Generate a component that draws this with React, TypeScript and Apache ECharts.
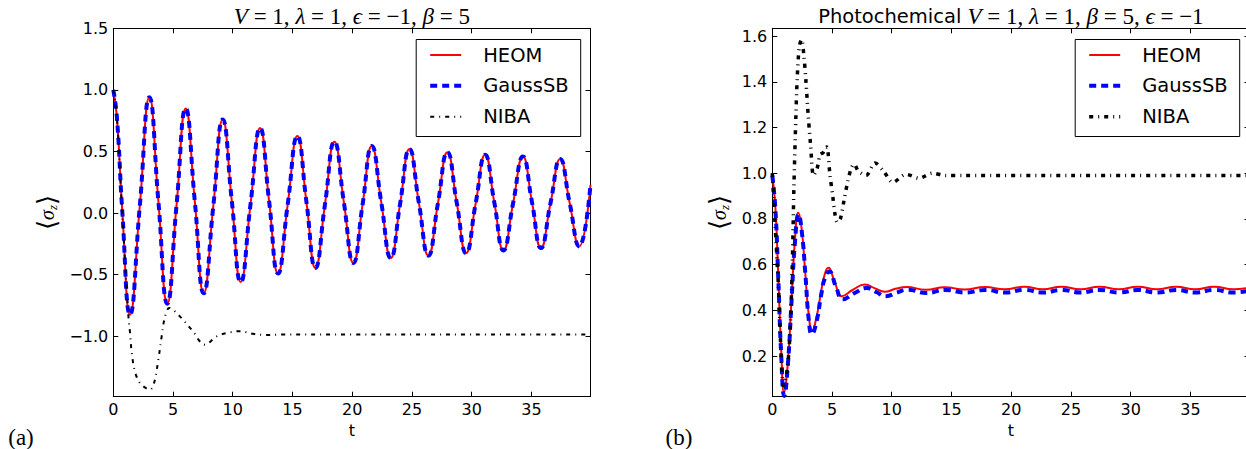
import React, { useEffect, useRef } from "react";
import * as echarts from "echarts";

// ---------------- data ----------------
const xTicks = [0, 5, 10, 15, 20, 25, 30, 35];
const yTicksA = [-1.0, -0.5, 0.0, 0.5, 1.0, 1.5];
const yTicksB = [0.2, 0.4, 0.6, 0.8, 1.0, 1.2, 1.4, 1.6];
const legendNames = ["HEOM", "GaussSB", "NIBA"];
const xRange = [0, 39.95];
const yRangeA = [-1.49, 1.5];
const yRangeB = [0.022, 1.634];

// panel (a): V=1, lambda=1, eps=-1, beta=5
const heomA = [
  [0, 1.0], [0.3, 0.78], [0.75, 0.02], [1.4, -0.825], [2.22, 0.06], [3.02, 0.94],
  [3.77, 0.1], [4.52, -0.735], [5.29, 0.06], [6.06, 0.85], [6.82, 0.1], [7.57, -0.65],
  [8.37, 0.055], [9.16, 0.76], [9.92, 0.1], [10.67, -0.56], [11.48, 0.065], [12.29, 0.69],
  [13.04, 0.1], [13.79, -0.49], [14.6, 0.07], [15.41, 0.625], [16.17, 0.09], [16.92, -0.445],
  [17.72, 0.07], [18.51, 0.58], [19.3, 0.09], [20.1, -0.405], [20.87, 0.07], [21.64, 0.545],
  [22.43, 0.09], [23.23, -0.365], [24.01, 0.075], [24.79, 0.52], [25.58, 0.085], [26.38, -0.345],
  [27.17, 0.075], [27.97, 0.495], [28.75, 0.085], [29.54, -0.325], [30.33, 0.075], [31.13, 0.473],
  [31.9, 0.085], [32.66, -0.303], [33.47, 0.08], [34.29, 0.46], [35.05, 0.09], [35.8, -0.284],
  [36.6, 0.08], [37.41, 0.44], [38.2, 0.085], [39.0, -0.27], [39.95, 0.23],
];
// GaussSB lies on top of HEOM in panel (a)
const gaussA = heomA;
const nibaA = [
  [0, 1.0], [0.3, 0.78], [0.7, 0.08], [1.26, -0.83], [1.4, -0.97], [1.54, -1.13],
  [1.82, -1.29], [2.24, -1.38], [2.8, -1.425], [3.07, -1.433], [3.41, -1.38], [3.77, -1.19],
  [4.05, -1.0], [4.33, -0.84], [4.69, -0.77], [5.59, -0.84], [6.56, -0.946], [7.68, -1.068],
  [8.66, -1.0], [9.5, -0.973], [10.6, -0.958], [11.7, -0.98], [12.85, -0.99], [14.0, -0.985],
  [20, -0.985], [30, -0.985], [39.95, -0.985],
];

// panel (b): photochemical
const heomB = [
  [0, 0.99], [0.25, 0.86], [0.5, 0.55], [0.75, 0.22], [0.98, 0.042], [1.3, 0.17],
  [1.6, 0.44], [1.9, 0.71], [2.17, 0.827], [2.45, 0.76], [2.75, 0.57], [3.05, 0.38],
  [3.34, 0.309], [3.7, 0.37], [4.05, 0.47], [4.35, 0.55], [4.68, 0.586], [5.25, 0.52],
  [5.8, 0.462], [6.75, 0.49], [7.75, 0.513], [8.6, 0.496], [9.42, 0.481], [10.3, 0.494],
  [11.24, 0.502], [12.85, 0.49], [14.45, 0.501], [16.1, 0.491], [17.8, 0.502], [19.45, 0.492],
  [21.1, 0.503], [22.65, 0.492], [24.2, 0.503], [25.8, 0.492], [27.4, 0.503], [29.0, 0.492],
  [30.6, 0.503], [32.2, 0.492], [33.8, 0.503], [35.4, 0.492], [37.0, 0.503], [38.6, 0.492],
  [39.95, 0.5],
];
const gaussB = [
  [0, 0.99], [0.25, 0.85], [0.5, 0.54], [0.75, 0.2], [1.0, 0.025], [1.3, 0.16],
  [1.6, 0.43], [1.9, 0.7], [2.2, 0.82], [2.48, 0.74], [2.78, 0.55], [3.05, 0.36],
  [3.3, 0.295], [3.7, 0.35], [4.1, 0.47], [4.4, 0.54], [4.77, 0.57], [5.35, 0.5],
  [5.9, 0.448], [6.9, 0.476], [7.9, 0.498], [8.7, 0.48], [9.5, 0.462], [10.4, 0.477],
  [11.3, 0.49], [12.9, 0.476], [14.5, 0.489], [16.15, 0.478], [17.85, 0.489], [19.5, 0.478],
  [21.1, 0.489], [22.7, 0.478], [24.2, 0.489], [25.8, 0.478], [27.4, 0.489], [29.0, 0.478],
  [30.6, 0.489], [32.2, 0.478], [33.8, 0.489], [35.4, 0.478], [37.0, 0.489], [38.6, 0.478],
  [39.95, 0.486],
];
const nibaB = [
  [0, 1.0], [0.5, 0.52], [0.95, 0.07], [1.25, 0.14], [1.48, 0.3], [1.67, 0.59],
  [1.81, 0.94], [1.98, 1.26], [2.09, 1.42], [2.26, 1.555], [2.45, 1.585], [2.65, 1.51],
  [2.82, 1.4], [3.01, 1.25], [3.21, 1.12], [3.45, 0.99], [3.75, 1.02], [4.0, 1.08],
  [4.25, 1.09], [4.55, 1.115], [4.83, 0.99], [5.06, 0.9], [5.25, 0.82], [5.45, 0.785],
  [5.7, 0.8], [6.0, 0.88], [6.3, 0.96], [6.6, 1.02], [6.85, 1.04], [7.2, 1.01],
  [7.85, 0.99], [8.6, 1.045], [9.3, 1.01], [10.1, 0.96], [11.2, 0.995], [12.3, 0.978],
  [13.4, 1.0], [14.5, 0.99], [16, 0.99], [25, 0.99], [39.95, 0.99],
];

// ---------------- styling ----------------
const SANS = "'DejaVu Sans', Verdana, sans-serif";
const SERIF = "'Liberation Serif', 'DejaVu Serif', serif";
const W = 1256;
const H = 449;
const GRID_TOP = 28.3;
const GRID_H = 368.4;
const GRID_W = 477.2;
const GRID_LEFTS = [113.3, 772.3];

const fmt = (v: number, d: number) => {
  const s = Math.abs(v).toFixed(d);
  return v < -1e-9 ? "\u2212" + s : s;
};

const lineAxis = { show: true, onZero: false, lineStyle: { color: "#000", width: 1 } };
const tick = (vals: number[]) => ({
  show: true, inside: true, length: 5, customValues: vals,
  lineStyle: { color: "#000", width: 1 },
});
const labelStyle = { color: "#000", fontFamily: SANS, fontSize: 16 };

function buildAxes(gridIndex: number, yRange: number[], yTicks: number[]) {
  const xb = {
    type: "value", gridIndex, min: xRange[0], max: xRange[1],
    splitLine: { show: false }, axisLine: lineAxis,
  };
  const yb = {
    type: "value", gridIndex, min: yRange[0], max: yRange[1],
    splitLine: { show: false }, axisLine: lineAxis,
  };
  const xAxes = [
    {
      ...xb, position: "bottom",
      axisTick: tick(xTicks),
      axisLabel: { ...labelStyle, customValues: xTicks, margin: 5, formatter: (v: number) => fmt(v, 0) },
      name: "t", nameLocation: "middle", nameGap: 24,
      nameTextStyle: { color: "#000", fontFamily: SANS, fontSize: 16 },
    },
    { ...xb, position: "top", axisTick: tick(xTicks), axisLabel: { show: false } },
  ];
  const yAxes = [
    {
      ...yb, position: "left",
      axisTick: tick(yTicks),
      axisLabel: { ...labelStyle, customValues: yTicks, margin: 5, formatter: (v: number) => fmt(v, 1) },
    },
    { ...yb, position: "right", axisTick: tick(yTicks), axisLabel: { show: false } },
  ];
  return { xAxes, yAxes };
}

const seriesStyles = [
  { color: "#ff0000", width: 2, type: "solid" as any },
  { color: "#0000ff", width: 4, type: [7, 5] },
];
const nibaDash = [4, 5, 1, 5];

function mkSeries(name: string, data: number[][], axisBase: number, style: any, smooth: number) {
  return {
    type: "line", name, data, xAxisIndex: axisBase, yAxisIndex: axisBase,
    symbol: "none", showSymbol: false, smooth, silent: true,
    lineStyle: { ...style, cap: "butt", join: "round" },
    emphasis: { disabled: true },
  };
}

function legendGraphic(gridLeft: number, nibaWidth: number) {
  const right = gridLeft + GRID_W - 9.8;
  const bx = right - 164.5;
  const by = 39.5;
  const rows = [55, 85.7, 116.7];
  const styles = [
    { stroke: "#ff0000", lineWidth: 2, lineDash: null as any },
    { stroke: "#0000ff", lineWidth: 4, lineDash: [7, 5] },
    { stroke: "#000000", lineWidth: nibaWidth, lineDash: nibaDash },
  ];
  const els: any[] = [
    {
      type: "rect", z: 100, silent: true,
      shape: { x: bx, y: by, width: 164.5, height: 97 },
      style: { fill: "#fff", stroke: "#000", lineWidth: 1 },
    },
  ];
  legendNames.forEach((n, i) => {
    els.push({
      type: "line", z: 101, silent: true,
      shape: { x1: bx + 14, y1: rows[i], x2: bx + 45, y2: rows[i] },
      style: { ...styles[i], lineCap: "butt" },
    });
    els.push({
      type: "text", z: 101, silent: true, x: bx + 67, y: rows[i],
      style: {
        text: n, fill: "#000", fontFamily: SANS, fontSize: 19.5,
        align: "left", verticalAlign: "middle", textAlign: "left", textVerticalAlign: "middle",
      },
    });
  });
  return els;
}

const mathRich = {
  i: { fontFamily: SERIF, fontStyle: "italic", fontSize: 23, fill: "#000" },
  r: { fontFamily: SERIF, fontSize: 23, fill: "#000" },
  p: { fontFamily: SANS, fontSize: 19.5, fill: "#000" },
};

const sigmaRich = {
  b: { fontFamily: SERIF, fontSize: 26, fill: "#000", lineHeight: 30 },
  s: { fontFamily: SERIF, fontStyle: "italic", fontSize: 20, fill: "#000", lineHeight: 30 },
  z: { fontFamily: SERIF, fontStyle: "italic", fontSize: 13, fill: "#000", lineHeight: 30, verticalAlign: "bottom", padding: [0, 0, 3, 0] },
};

export default function App() {
  const ref = useRef<HTMLDivElement>(null);
  useEffect(() => {
    if (!ref.current) return;
    const chart = echarts.init(ref.current, null, { renderer: "svg", width: W, height: H });
    const a = buildAxes(0, yRangeA, yTicksA);
    const b = buildAxes(1, yRangeB, yTicksB);
    const centers = GRID_LEFTS.map((l) => l + GRID_W / 2);
    const option: any = {
      animation: false,
      backgroundColor: "#fff",
      grid: GRID_LEFTS.map((l) => ({
        left: l, top: GRID_TOP, width: GRID_W, height: GRID_H,
        show: false, containLabel: false,
      })),
      xAxis: [...a.xAxes, ...b.xAxes],
      yAxis: [...a.yAxes, ...b.yAxes],
      series: [
        mkSeries("HEOM", heomA, 0, seriesStyles[0], 0.5),
        mkSeries("GaussSB", gaussA, 0, seriesStyles[1], 0.5),
        mkSeries("NIBA", nibaA, 0, { color: "#000", width: 2, type: nibaDash }, 0.35),
        mkSeries("HEOM (b)", heomB, 2, seriesStyles[0], 0.5),
        mkSeries("GaussSB (b)", gaussB, 2, seriesStyles[1], 0.5),
        mkSeries("NIBA (b)", nibaB, 2, { color: "#000", width: 3.5, type: nibaDash }, 0.3),
      ],
      graphic: [
        {
          type: "text", x: centers[0], y: 16, silent: true,
          style: {
            text: "{i|V}{r| = 1, }{i|λ}{r| = 1, }{i|ϵ}{r| = −1, }{i|β}{r| = 5}",
            rich: mathRich, align: "center", verticalAlign: "middle",
            textAlign: "center", textVerticalAlign: "middle",
          },
        },
        {
          type: "text", x: centers[1], y: 16, silent: true,
          style: {
            text: "{p|Photochemical }{i|V}{r| = 1, }{i|λ}{r| = 1, }{i|β}{r| = 5, }{i|ϵ}{r| = −1}",
            rich: mathRich, align: "center", verticalAlign: "middle",
            textAlign: "center", textVerticalAlign: "middle",
          },
        },
        {
          type: "text", x: 47, y: GRID_TOP + GRID_H / 2, rotation: Math.PI / 2, silent: true,
          style: {
            text: "{b|⟨}{s|σ}{z|z}{b|⟩}", rich: sigmaRich,
            align: "center", verticalAlign: "middle", textAlign: "center", textVerticalAlign: "middle",
          },
        },
        {
          type: "text", x: 719, y: GRID_TOP + GRID_H / 2, rotation: Math.PI / 2, silent: true,
          style: {
            text: "{b|⟨}{s|σ}{z|z}{b|⟩}", rich: sigmaRich,
            align: "center", verticalAlign: "middle", textAlign: "center", textVerticalAlign: "middle",
          },
        },
        {
          type: "text", x: 21, y: 437, silent: true,
          style: {
            text: "(a)", fill: "#000", fontFamily: SERIF, fontSize: 23,
            align: "center", verticalAlign: "middle", textAlign: "center", textVerticalAlign: "middle",
          },
        },
        {
          type: "text", x: 679, y: 437, silent: true,
          style: {
            text: "(b)", fill: "#000", fontFamily: SERIF, fontSize: 23,
            align: "center", verticalAlign: "middle", textAlign: "center", textVerticalAlign: "middle",
          },
        },
        ...legendGraphic(GRID_LEFTS[0], 2),
        ...legendGraphic(GRID_LEFTS[1], 3.5),
      ],
    };
    chart.setOption(option);
    return () => chart.dispose();
  }, []);
  return (
    <div
      style={{
        position: "fixed", left: 0, top: 0, width: 1246, height: H,
        overflow: "hidden", background: "#fff",
      }}
    >
      <div ref={ref} style={{ width: W, height: H }} />
    </div>
  );
}
